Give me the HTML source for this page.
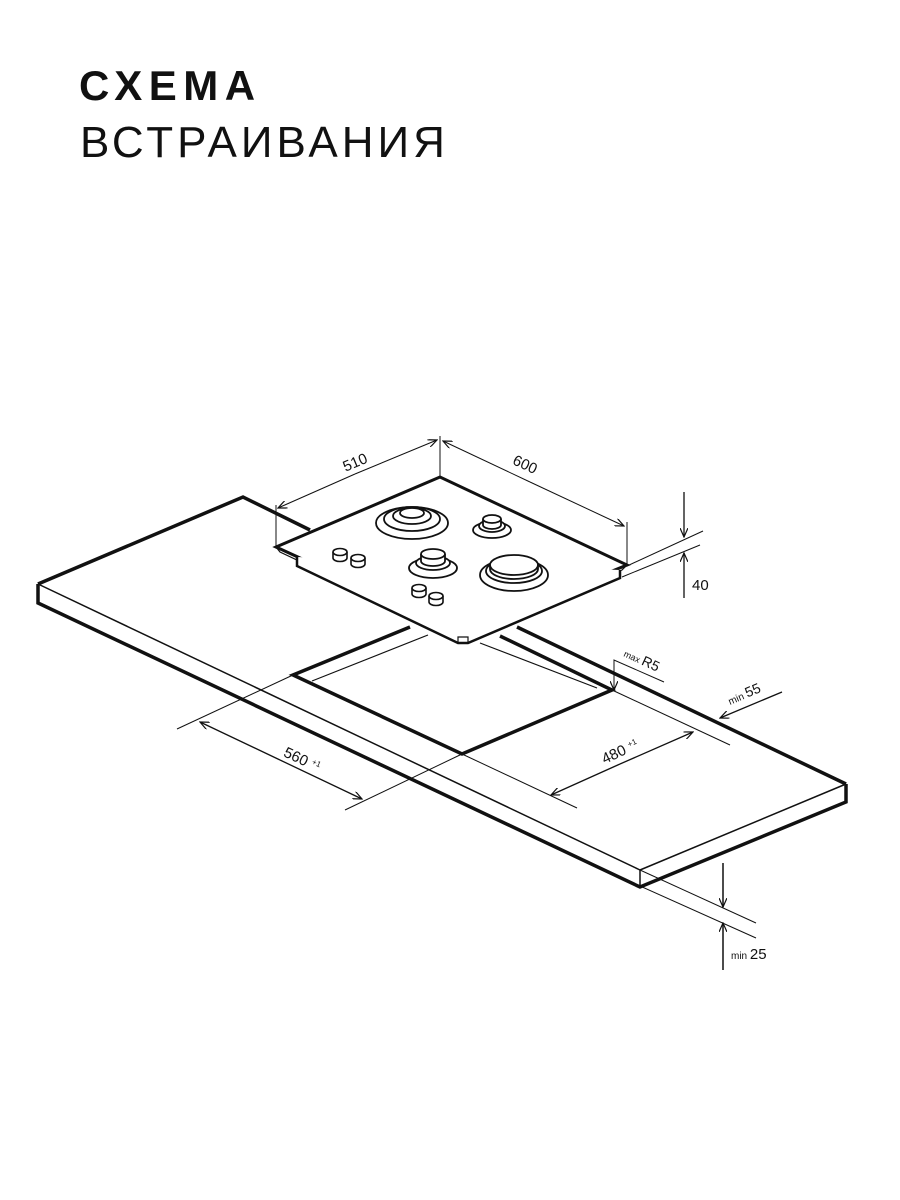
<!DOCTYPE html>
<html><head><meta charset="utf-8"><style>
html,body{margin:0;padding:0;background:#fff;}
.t1{position:absolute;left:79px;top:62px;font:bold 42px "Liberation Sans",sans-serif;letter-spacing:6.5px;color:#111;}
.t2{position:absolute;left:80px;top:118px;font:44px "Liberation Sans",sans-serif;letter-spacing:4px;color:#111;}
svg{position:absolute;left:0;top:0;}
text{font-family:"Liberation Sans",sans-serif;fill:#111;}
</style></head><body>
<div class="t1">СХЕМА</div>
<div class="t2">ВСТРАИВАНИЯ</div>
<svg width="900" height="1200" viewBox="0 0 900 1200">
<defs><marker id="a" markerWidth="10" markerHeight="8" refX="9" refY="4" orient="auto" markerUnits="userSpaceOnUse"><path d="M0,0 L9,4 L0,8" fill="none" stroke="#111" stroke-width="1.2"/></marker></defs>
<g fill="none" stroke="#111" stroke-linejoin="miter">
<polyline points="310,530 243,497 38,584" stroke-width="3.5"/>
<line x1="517" y1="627" x2="846" y2="784" stroke-width="3.5"/>
<line x1="846" y1="784" x2="640" y2="870" stroke-width="1.5"/>
<line x1="38" y1="584" x2="640" y2="870" stroke-width="1.5"/>
<polyline points="38,584 38,603 640,887 846,802 846,784" stroke-width="3.5"/>
<line x1="640" y1="870" x2="640" y2="887" stroke-width="1.5"/>
<polyline points="410,627 293,675 462,754 612,690 500,636" stroke-width="3.5"/>
<line x1="312" y1="681" x2="428" y2="635" stroke-width="1.2"/>
<line x1="480" y1="643" x2="597" y2="688" stroke-width="1.2"/>
<polygon points="276,547 440,477 627,565 462,632" fill="#fff" stroke-width="3"/>
<polyline points="276,547 280,552 462,638 622,570 627,565" stroke-width="1.2"/>
<polyline points="297,557 297,566 458,643 468,643 620,578 620,570" stroke-width="2.5" fill="#fff"/>
<polyline points="458,643 458,637 468,637 468,643" stroke-width="1.2"/>
<g stroke-width="1.8" fill="#fff">
<ellipse cx="412" cy="523" rx="36" ry="16"/><ellipse cx="412" cy="519" rx="28" ry="12"/><ellipse cx="412" cy="516" rx="19" ry="8"/><ellipse cx="412" cy="513" rx="12" ry="5"/>
<ellipse cx="492" cy="530" rx="19" ry="8"/><ellipse cx="492" cy="526" rx="13" ry="6"/><path d="M483,519 v6 a9,4 0 0 0 18,0 v-6"/><ellipse cx="492" cy="519" rx="9" ry="4"/>
<ellipse cx="433" cy="568" rx="24" ry="10"/><ellipse cx="433" cy="563" rx="17" ry="7"/><path d="M421,554 v7 a12,5 0 0 0 24,0 v-7"/><ellipse cx="433" cy="554" rx="12" ry="5"/>
<ellipse cx="514" cy="575" rx="34" ry="16"/><ellipse cx="514" cy="571" rx="28" ry="12"/><path d="M490,565 v4 a24,10 0 0 0 48,0 v-4"/><ellipse cx="514" cy="565" rx="24" ry="10"/>
</g>
<g stroke-width="1.6" fill="#fff">
<path d="M333,552 v6 a7,3.5 0 0 0 14,0 v-6"/><ellipse cx="340" cy="552" rx="7" ry="3.5"/>
<path d="M351,558 v6 a7,3.5 0 0 0 14,0 v-6"/><ellipse cx="358" cy="558" rx="7" ry="3.5"/>
<path d="M412,588 v6 a7,3.5 0 0 0 14,0 v-6"/><ellipse cx="419" cy="588" rx="7" ry="3.5"/>
<path d="M429,596 v6 a7,3.5 0 0 0 14,0 v-6"/><ellipse cx="436" cy="596" rx="7" ry="3.5"/>
</g>
<g stroke-width="1">
<line x1="276" y1="505" x2="276" y2="547"/><line x1="440" y1="436" x2="440" y2="477"/><line x1="627" y1="522" x2="627" y2="565"/>
<line x1="355" y1="474" x2="278" y2="508" marker-end="url(#a)"/><line x1="355" y1="474" x2="437" y2="440" marker-end="url(#a)"/>
<line x1="530" y1="482" x2="443" y2="441" marker-end="url(#a)"/><line x1="530" y1="482" x2="624" y2="526" marker-end="url(#a)"/>
<line x1="627" y1="566" x2="703" y2="531"/><line x1="622" y1="577" x2="700" y2="545"/>
<line x1="684" y1="492" x2="684" y2="537" marker-end="url(#a)" stroke-width="1.3"/>
<line x1="684" y1="598" x2="684" y2="553" marker-end="url(#a)" stroke-width="1.3"/>
<line x1="293" y1="675" x2="177" y2="729"/><line x1="462" y1="754" x2="345" y2="810"/>
<line x1="280" y1="760" x2="200" y2="722" marker-end="url(#a)" stroke-width="1.3"/><line x1="280" y1="760" x2="362" y2="799" marker-end="url(#a)" stroke-width="1.3"/>
<line x1="462" y1="754" x2="577" y2="808"/><line x1="612" y1="690" x2="730" y2="745"/>
<line x1="620" y1="764" x2="551" y2="795" marker-end="url(#a)" stroke-width="1.3"/><line x1="620" y1="764" x2="693" y2="732" marker-end="url(#a)" stroke-width="1.3"/>
<polyline points="664,682 614,660 614,690" marker-end="url(#a)"/>
<line x1="782" y1="692" x2="720" y2="718" marker-end="url(#a)" stroke-width="1.3"/>
<line x1="640" y1="870" x2="756" y2="923"/><line x1="640" y1="886" x2="756" y2="938"/>
<line x1="723" y1="863" x2="723" y2="907" marker-end="url(#a)" stroke-width="1.5"/>
<line x1="723" y1="970" x2="723" y2="923" marker-end="url(#a)" stroke-width="1.5"/>
</g>
</g>
<text x="357" y="467" font-size="15" transform="rotate(-23 357 467)" text-anchor="middle">510</text>
<text x="523" y="469" font-size="15" transform="rotate(25 523 469)" text-anchor="middle">600</text>
<text x="692" y="590" font-size="15">40</text>
<text x="300" y="764" font-size="15" transform="rotate(25 300 764)" text-anchor="middle">560 <tspan font-size="8" dy="-5">+1</tspan></text>
<text x="622" y="756" font-size="15" transform="rotate(-25 622 756)" text-anchor="middle">480 <tspan font-size="8" dy="-5">+1</tspan></text>
<text x="623" y="656" font-size="9" transform="rotate(25 623 656)">max <tspan font-size="14">R5</tspan></text>
<text x="730" y="705" font-size="10" transform="rotate(-23 730 705)">min <tspan font-size="14">55</tspan></text>
<text x="731" y="959" font-size="10">min <tspan font-size="15">25</tspan></text>
</svg>
</body></html>
